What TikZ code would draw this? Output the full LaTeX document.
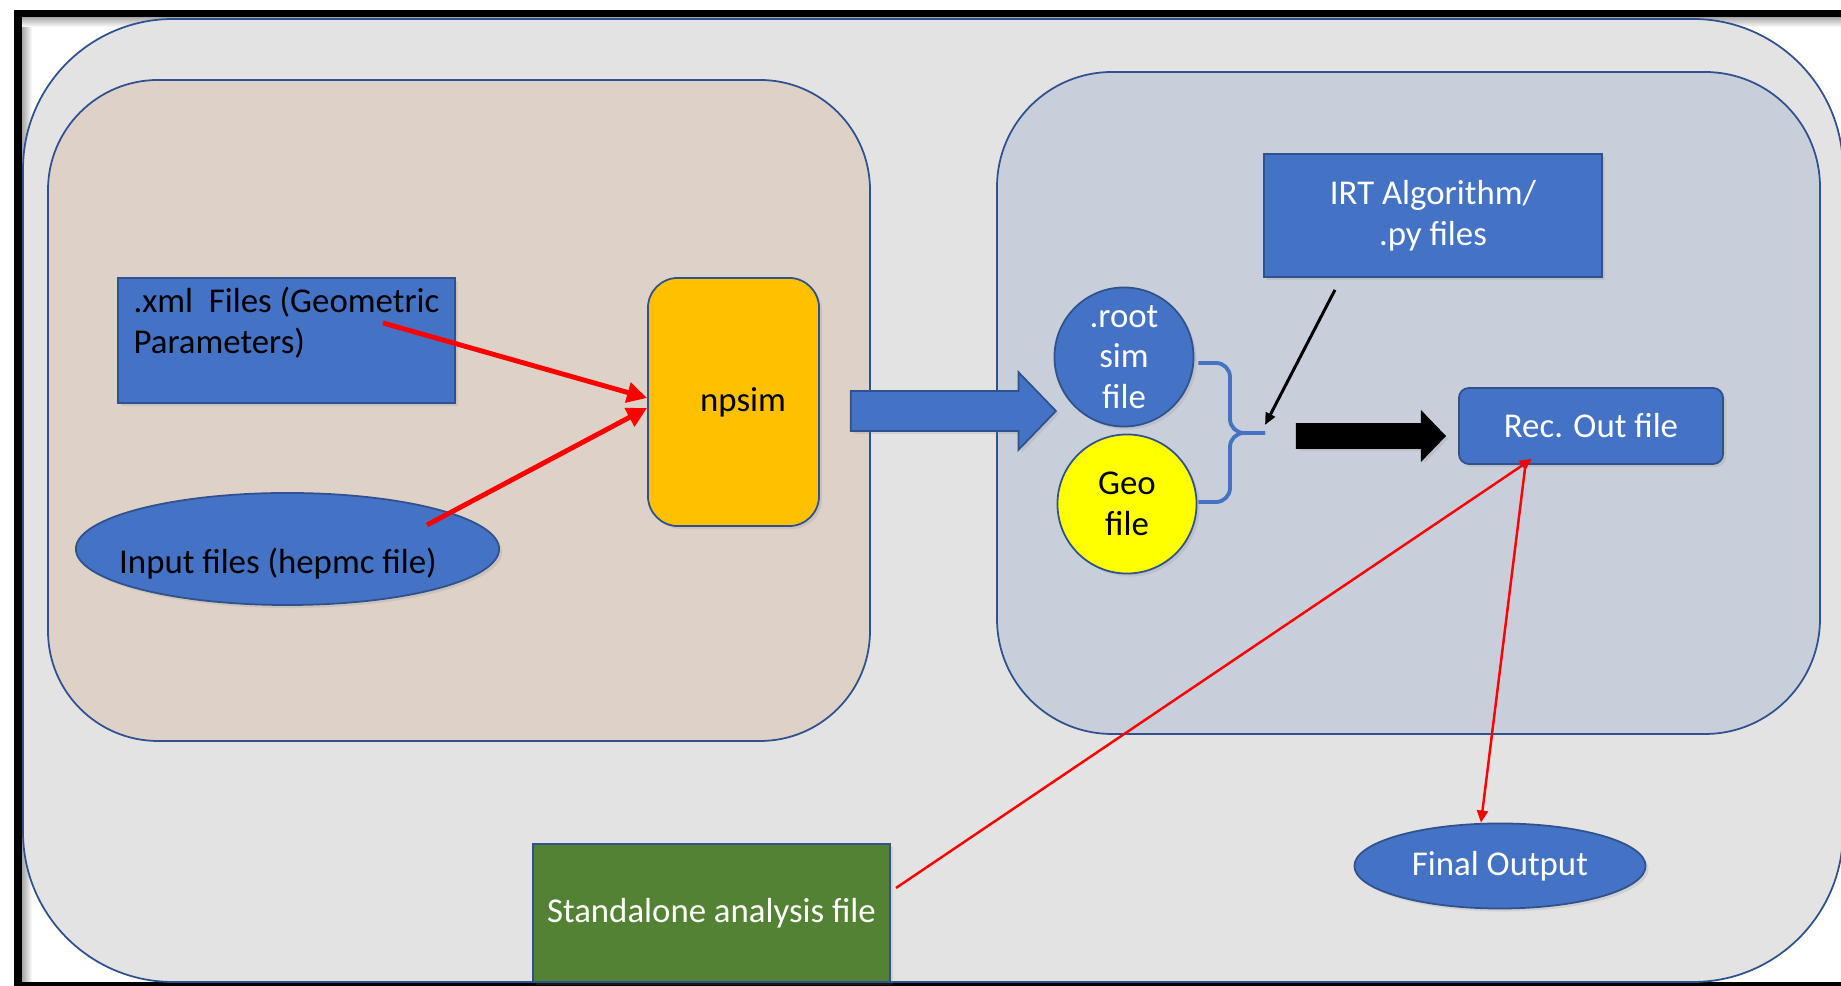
\documentclass[tikz,border=0pt]{standalone}
\usepackage{fontspec}
\setmainfont{Carlito}
\usepackage{xcolor}
\usetikzlibrary{arrows.meta,positioning,calc,shapes.geometric,shapes.arrows,shadows}

\definecolor{slidegray}{HTML}{E3E3E3}
\definecolor{simpanel}{HTML}{DDD1C8}
\definecolor{recpanel}{HTML}{C8CFDA}
\definecolor{boxblue}{HTML}{4472C4}
\definecolor{edgeblue}{HTML}{2F528F}
\definecolor{npsimorange}{HTML}{FFC000}
\definecolor{geoyellow}{HTML}{FFFF00}
\definecolor{anagreen}{HTML}{548235}

\begin{document}
\begin{tikzpicture}[
  x=0.01cm, y=-0.01cm,
  font=\fontsize{9.9}{11.6}\selectfont,
  panel/.style={draw=edgeblue, line width=0.5pt},
  box/.style={draw=edgeblue, line width=0.5pt, fill=boxblue, text=white, inner sep=0pt,
    drop shadow={shadow xshift=0.03cm, shadow yshift=-0.03cm, opacity=0.18}},
  blockarr/.style={single arrow, draw=edgeblue, line width=0.5pt, inner sep=0pt, text depth=0pt,
    drop shadow={shadow xshift=0.03cm, shadow yshift=-0.03cm, opacity=0.18}},
  redfat/.style={-{Triangle[length=0.2cm, width=0.2cm]}, line width=1.4pt, red},
  redthin/.style={-{Triangle[length=0.12cm, width=0.11cm]}, line width=0.7pt, red},
  blackthin/.style={-{Triangle[length=0.12cm, width=0.1cm]}, line width=0.85pt, black},
  brace/.style={draw=boxblue, line width=1.1pt, rounded corners=0.14cm}
]
\useasboundingbox (0,0) rectangle (1841,986);
\fill[white] (0,0) rectangle (1841,986);

% frame of the slide, with a soft edge inside
\shade[left color=black!35, right color=white] (22,17) rectangle (32,986);
\shade[top color=black!35, bottom color=white] (22,17) rectangle (1841,27);
\fill[black] (14,10) rectangle (1841,17);
\fill[black] (14,10) rectangle (22,986);
\fill[black] (14,982) rectangle (1841,986);

% background panels
\draw[panel, fill=slidegray, rounded corners=1.5cm] (23,19) rectangle (1843,982);
\draw[panel, fill=simpanel, rounded corners=1.1cm] (48,80) rectangle (870,741);
\draw[panel, fill=recpanel, rounded corners=1.15cm] (997,72) rectangle (1820,734);

% simulation side
\node[box, text=black, align=left, minimum width=3.37cm, minimum height=1.25cm] (xml)
  at (286.5,340.5) {.xml\ \ Files (Geometric\\Parameters)\\\mbox{}};
\node[box, ellipse, text=black, minimum width=4.23cm, minimum height=1.12cm] (hepmc)
  at (287.5,549) {\raisebox{-0.24cm}[0pt][0pt]{\makebox[0pt]{Input files (hepmc file)\hspace{0.19cm}}}};
\node[box, fill=npsimorange, text=black, rounded corners=0.3cm,
  minimum width=1.71cm, minimum height=2.48cm] (npsim) at (733.5,402) {\hspace{0.19cm}npsim};

\draw[redfat] ([xshift=0.965cm, yshift=0.175cm]xml.center) -- ([yshift=0.04cm]npsim.west);
\draw[redfat] ([xshift=1.395cm, yshift=0.24cm]hepmc.center) -- ([yshift=-0.06cm]npsim.west);

\node[blockarr, fill=boxblue, text height=0.38cm, minimum height=2.05cm,
  single arrow head extend=0.19cm, single arrow tip angle=92,
  right=0.30cm of npsim, yshift=-0.09cm] (feed) {};

% reconstruction side
\node[box, circle, align=center, minimum size=1.39cm] (root) at (1124,357) {.root\\sim\\file};
\node[box, circle, fill=geoyellow, text=black, align=center, minimum size=1.39cm] (geo)
  at (1127,504) {Geo\\file};

\coordinate (brmid) at (1230,433);
\coordinate (brtip) at (1265,433);
\draw[brace] ([xshift=0.04cm, yshift=-0.06cm]root.east) -| (brmid) -- (brtip);
\draw[brace] ([xshift=0.01cm, yshift=0.02cm]geo.east) -| (brmid) -- (brtip);

\node[box, align=center, minimum width=3.38cm, minimum height=1.23cm] (irt)
  at (1433,215.5) {IRT Algorithm/\\.py files};
\draw[blackthin] ([xshift=-0.98cm, yshift=-0.12cm]irt.south) -- ([yshift=0.08cm]brtip);

\node[box, rounded corners=0.1cm, minimum width=2.64cm, minimum height=0.76cm] (rec)
  at (1591,426) {Rec. Out file};
\node[blockarr, fill=black, draw=black, text height=0.22cm, minimum height=1.48cm,
  single arrow head extend=0.12cm, single arrow tip angle=92,
  left=0.12cm of rec, yshift=-0.10cm] (recarr) {};

% analysis and final output
\node[box, ellipse, minimum width=2.91cm, minimum height=0.85cm] (final) at (1500,866) {Final Output};
\node[box, fill=anagreen, minimum width=3.57cm, minimum height=1.38cm] (ana)
  at (711.5,913) {Standalone analysis file};

\draw[redthin] ([xshift=0.05cm, yshift=0.25cm]ana.east) -- ([xshift=-0.59cm, yshift=0.06cm]rec.south);
\draw[redthin] ([xshift=-0.66cm, yshift=-0.04cm]rec.south) -- ([xshift=-0.19cm]final.north);
\end{tikzpicture}
\end{document}
